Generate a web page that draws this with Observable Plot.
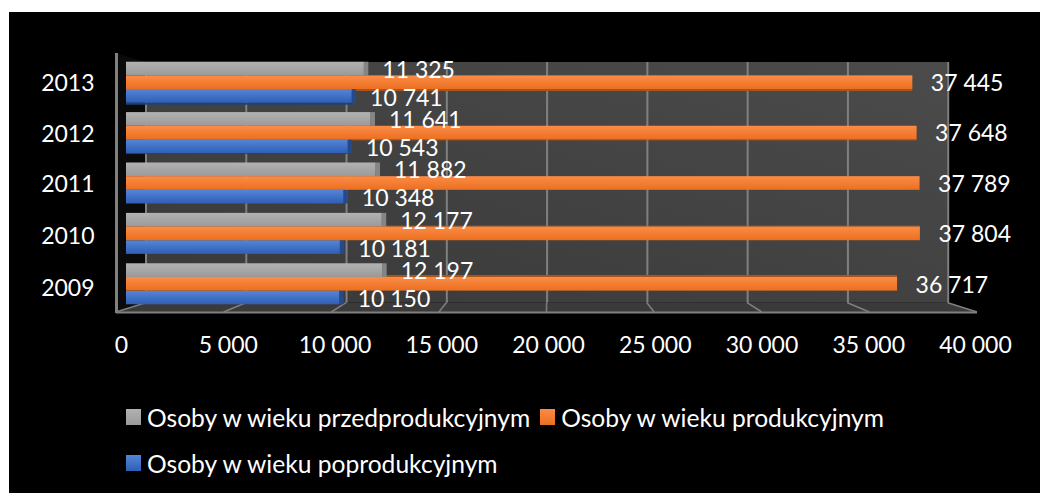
<!DOCTYPE html>
<html><head><meta charset="utf-8">
<script src="https://cdn.jsdelivr.net/npm/d3@7"></script>
<script src="https://cdn.jsdelivr.net/npm/@observablehq/plot@0.6"></script>
<style>
html,body{margin:0;background:#fff;width:1040px;height:493px;overflow:hidden}
#chart{position:absolute;left:9px;top:12px;width:1031px;height:481px;background:#000;font-family:Lato,sans-serif;color:#fff}
#chart svg{display:block;background:transparent}
#legend{display:flex;flex-wrap:wrap;align-content:flex-start;box-sizing:border-box;padding:1px 0 0 117px;column-gap:10px;row-gap:0;font-size:24.6px;width:1000px}
#legend .item{display:flex;align-items:center;height:46px;gap:6px;white-space:nowrap}
#legend .sw{width:15px;height:16px;display:block}
</style></head><body><div id="chart"></div>
<script>
const years = ["2013","2012","2011","2010","2009"];
const seriesNames = ["Osoby w wieku przedprodukcyjnym","Osoby w wieku produkcyjnym","Osoby w wieku poprodukcyjnym"];
const przed = [11325,11641,11882,12177,12197];
const prod  = [37445,37648,37789,37804,36717];
const po    = [10741,10543,10348,10181,10150];
const xTicks = [0,5000,10000,15000,20000,25000,30000,35000,40000];
const xTickLabels = ["0","5 000","10 000","15 000","20 000","25 000","30 000","35 000","40 000"];
const topColors = ["#b2b2b2","#fb8c46","#5585d6"];
const lowColors = ["#9a9a9a","#ec6f20","#2f5fb6"];
const sideColors = ["#858585","#a8541c","#254a8c"];

const fmt = v => String(v).replace(/(\d)(\d{3})$/, "$1 $2");
const rows = vals => vals.map((v,i)=>({year:years[i],value:v,label:fmt(v)}));
const series = [przed,prod,po].map(rows);

// Depth of the 3-D box, as the same value axis seen on other planes.
const W = 40000, barPx = [117,957];
const onPlane = (a,b) => v => ((a + v/W*(b-a)) - barPx[0]) / ((barPx[1]-barPx[0])/W);
const back = onPlane(136.5,938.7), front = onPlane(107,968), labelAt = onPlane(112,966);

const gradId = i => `url(#g${i})`;
const defs = () => {
  const g = d3.create("svg:g"), d = g.append("defs");
  topColors.forEach((c,i)=>{
    const l = d.append("linearGradient").attr("id","g"+i).attr("x1",0).attr("x2",0).attr("y1",0).attr("y2",1);
    l.append("stop").attr("offset",0).attr("stop-color",c);
    l.append("stop").attr("offset",1).attr("stop-color",lowColors[i]);
  });
  const w = d.append("linearGradient").attr("id","wall").attr("x1",0).attr("x2",1).attr("y1",1).attr("y2",0);
  w.append("stop").attr("offset",0).attr("stop-color","#393939");
  w.append("stop").attr("offset",1).attr("stop-color","#4b4b4b");
  return g.node();
};
const box = (index,{x},values,{height,marginTop,marginBottom}) => {
  const yT = marginTop, yB = height-marginBottom, g = d3.create("svg:g");
  const xf = x(front(0)), xb = x(back(0)), xF = x(front(W)), xB = x(back(W));
  g.append("path").attr("d",`M${xf},${yT}L${xb},${yT+9}V${yB-9.3}L${xf},${yB}Z`).attr("fill","#0a0a0a");
  g.append("path").attr("d",`M${xf},${yB}L${xb},${yB-9.3}H${xB}L${xF},${yB}Z`).attr("fill","#3a3a3a");
  xTicks.forEach(v=>{
    g.append("line").attr("x1",x(front(v))).attr("x2",x(back(v))).attr("y1",yB).attr("y2",yB-9.3)
      .attr("stroke","#7f7f7f").attr("stroke-width",1.5);
  });
  return g.node();
};
const band = 41/3;
const barMarks = (i) => {
  const top = i*band, bot = (2-i)*band;
  const out = [];
  if (i !== 1) out.push(Plot.barX(series[i],{x1:d=>d.value,x2:d=>d.value,y:"year",insetRight:-4.5,insetTop:top,insetBottom:bot,fill:sideColors[i]}));
  out.push(Plot.barX(series[i],{x1:0,x2:"value",y:"year",insetTop:top,insetBottom:bot,fill:gradId(i)}));
  return out;
};
// Faces seen from the camera: undersides on the upper rows, tops on the lower rows.
const faceMarks = (i,color) => [[0,2],[1,1],[3,-1],[4,-2]].map(([row,n]) => {
  const top = i*band, bot = (2-i)*band;
  return Plot.barX([series[i][row]],{x1:0,x2:"value",y:"year",fill:color,
    insetTop: n>0 ? top+band : top+n,
    insetBottom: n>0 ? bot-n : bot+band});
});
const dyByRow = [-12.5,1,15.5];
const yearDy = [1,1.5,1,2.6,4];
const plot = Plot.plot({
  width:1031,height:381,marginLeft:117,marginRight:74,marginTop:41,marginBottom:81,
  style:{background:"transparent",fontFamily:"Lato,sans-serif",overflow:"visible"},
  x:{domain:[0,W],axis:null},
  y:{domain:years,paddingInner:.1865,paddingOuter:.163,align:.53,round:false,label:null,axis:null},
  marks:[
    defs,
    Plot.rect([0],{x1:()=>back(0),x2:()=>back(W),insetTop:9,insetBottom:9.3,fill:"url(#wall)"}),
    box,
    Plot.ruleX(xTicks,{x:back,stroke:"#808080",strokeWidth:2,insetTop:9,insetBottom:9.3}),
    Plot.ruleX([0],{x:front,stroke:"#808080",strokeWidth:3,insetBottom:-1}),
    Plot.ruleY(["2009"],{y:d=>d,x1:()=>front(0),x2:()=>front(W),dy:28.2,stroke:"#808080",strokeWidth:2}),
    ...faceMarks(1,"#a8541c"),
    ...faceMarks(2,"#1f4080").slice(0,2),
    ...barMarks(0),...barMarks(2),...barMarks(1),
    ...series.map((s,i)=>Plot.text(s,{x:"value",y:"year",text:"label",dx:18,dy:dyByRow[i],textAnchor:"start",fill:"#fff",fontSize:23})),
    ...years.map((y,i)=>Plot.text([y],{y:d=>d,frameAnchor:"left",text:d=>d,dx:-32,dy:yearDy[i],textAnchor:"end",fill:"#fff",fontSize:23})),
    Plot.text(xTicks,{x:labelAt,text:(d,i)=>xTickLabels[i],frameAnchor:"bottom",dy:40,fill:"#fff",fontSize:23})
  ]
});
const root = document.getElementById("chart");
root.appendChild(plot);
const legend = document.createElement("div"); legend.id="legend";
seriesNames.forEach((n,i)=>{
  const it=document.createElement("div");it.className="item";
  const s=document.createElement("span");s.className="sw";s.style.background=`linear-gradient(${topColors[i]},${lowColors[i]})`;
  const t=document.createElement("span");t.textContent=n;
  it.append(s,t);legend.appendChild(it);
});
root.appendChild(legend);
</script></body></html>
